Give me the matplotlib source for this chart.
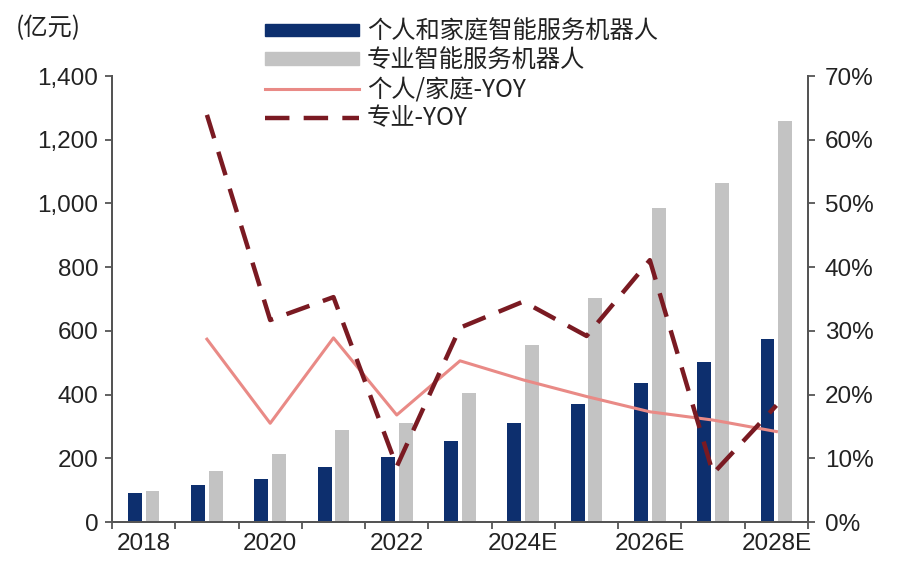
import numpy as np
import matplotlib.pyplot as plt
from matplotlib.patches import Patch
from matplotlib.lines import Line2D

plt.rcParams['font.family'] = ['Liberation Sans', 'Noto Sans CJK SC', 'DejaVu Sans']

# 服务机器人市场规模（亿元）及同比增速
years = ['2018', '2019', '2020', '2021', '2022', '2023',
         '2024E', '2025E', '2026E', '2027E', '2028E']
home = [92, 116, 135, 174, 203, 254, 312, 370, 435, 502, 574]
pro = [98, 160, 212, 289, 312, 406, 556, 703, 986, 1063, 1260]
home_yoy = [np.nan, 28.7, 15.5, 28.9, 16.8, 25.3, 22.3, 19.7, 17.3, 16.0, 14.2]
pro_yoy = [np.nan, 63.9, 31.7, 35.3, 8.7, 30.5, 34.6, 29.2, 41.1, 7.6, 18.3]

navy = '#0d2f6e'
grey = '#c3c3c3'
pink = '#e98a86'
dark_red = '#7a1a22'
axis_col = '#555555'

fig = plt.figure(figsize=(8.99, 5.66), dpi=100)
ax = fig.add_axes([0.1246, 0.0777, 0.7742, 0.788])
ax2 = ax.twinx()

x = np.arange(len(years))
w = 0.22
ax.bar(x - 0.14, home, w, color=navy, zorder=2)
ax.bar(x + 0.14, pro, w, color=grey, zorder=2)

ax2.plot(x, np.array(home_yoy) / 100, color=pink, lw=2.2, zorder=3)
ax2.plot(x, np.array(pro_yoy) / 100, color=dark_red, lw=3.2,
         dashes=(5.5, 3.2), zorder=3)

ax.set_xlim(-0.5, len(years) - 0.5)
ax.set_ylim(0, 1400)
ax2.set_ylim(0, 0.7)

ax.set_yticks(range(0, 1401, 200))
ax.set_yticklabels([f'{v:,}' for v in range(0, 1401, 200)])
ax2.set_yticks(np.arange(0, 0.71, 0.1))
ax2.set_yticklabels([f'{v}%' for v in range(0, 71, 10)])

# 标签放在类别中间，刻度线放在类别边界
ax.set_xticks(x[::2])
ax.set_xticklabels([years[i] for i in x[::2]])
ax.set_xticks(np.arange(-0.5, len(years), 1), minor=True)
ax.tick_params(axis='x', which='major', length=0, pad=8)
ax.tick_params(axis='x', which='minor', length=5, width=1.3, color=axis_col,
               direction='out')

for a in (ax, ax2):
    a.tick_params(axis='y', length=5, width=1.3, color=axis_col,
                  labelsize=17.5, labelcolor='#222222')
    a.tick_params(axis='x', labelsize=17.5, labelcolor='#222222')
    a.spines['top'].set_visible(False)
    for s in ('left', 'right', 'bottom'):
        a.spines[s].set_color(axis_col)
        a.spines[s].set_linewidth(1.4)
ax.tick_params(axis='y', pad=5)
ax2.tick_params(axis='y', pad=7)

fig.text(0.018, 0.95, '(亿元)', fontsize=17.5, color='#222222', va='center',
         family=['Noto Sans CJK SC', 'DejaVu Sans'])

handles = [
    Patch(color=navy),
    Patch(color=grey),
    Line2D([], [], color=pink, lw=2.2),
    Line2D([], [], color=dark_red, lw=3.2, dashes=(5.5, 3.2)),
]
labels = ['个人和家庭智能服务机器人', '专业智能服务机器人', '个人/家庭-YOY', '专业-YOY']
leg = fig.legend(handles, labels, loc='upper left', bbox_to_anchor=(0.27, 1.006),
                 frameon=False, handlelength=3.9, handleheight=0.42,
                 handletextpad=0.3, labelspacing=0.12,
                 prop={'family': ['Noto Sans CJK SC', 'DejaVu Sans'], 'size': 17.5})
for t in leg.get_texts():
    t.set_color('#222222')

fig.savefig('out.png', dpi=100, facecolor='white')
